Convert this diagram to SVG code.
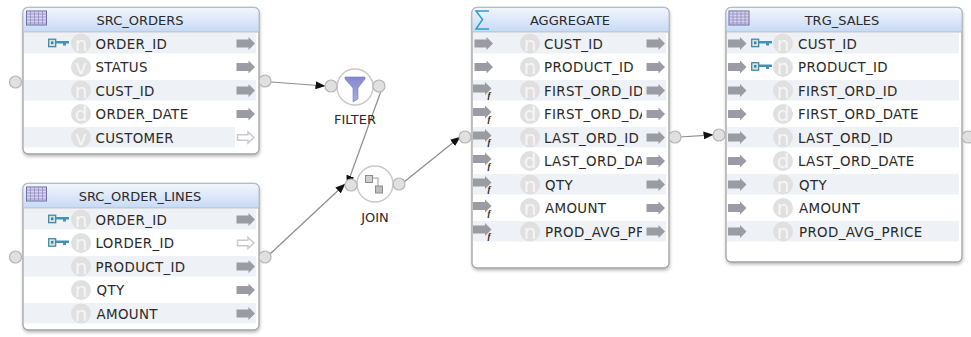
<svg xmlns="http://www.w3.org/2000/svg" width="971" height="337" viewBox="0 0 971 337">
<style>
text{font-family:"DejaVu Sans","Liberation Sans",sans-serif;fill:#2a2a2a}
.r{font-size:13.4px;letter-spacing:0.35px}
.t{font-size:13px;text-anchor:middle}
.l{font-size:13px;text-anchor:middle}
.card{fill:#fff;stroke:#a2a2a2;stroke-width:1.3;filter:url(#sh)}
.band{fill:#eef1f5}
.port{fill:#e0e0e0;stroke:#b6b6b6;stroke-width:1.2}
.op{fill:#fff;stroke:#c8c8c8;stroke-width:1.4}
.dt{fill:#e0e0e0}
.dl{font-size:20px;fill:#f6f6f6;text-anchor:middle;transform:translateY(2px)}
.f{font-size:9px;font-style:italic;font-weight:bold;fill:#222;font-family:"Liberation Serif",serif}
.c{fill:none;stroke:#8c8c8c;stroke-width:1.2;marker-end:url(#ah)}
.head{stroke:#b5bdc9;stroke-width:1}
</style>
<defs>
<filter id="sh" x="-5%" y="-5%" width="110%" height="110%"><feDropShadow dx="0.5" dy="2" stdDeviation="1.5" flood-color="#000" flood-opacity="0.25"/></filter>
<linearGradient id="hg" x1="0" y1="0" x2="0" y2="1"><stop offset="0" stop-color="#f3f6fd"/><stop offset="1" stop-color="#c6daf5"/></linearGradient>
<linearGradient id="fg" x1="0" y1="0" x2="0" y2="1"><stop offset="0" stop-color="#8488cf"/><stop offset="1" stop-color="#a9addf"/></linearGradient>
<marker id="ah" viewBox="0 0 10 8" refX="9.5" refY="4" markerWidth="10" markerHeight="8" markerUnits="userSpaceOnUse" orient="auto"><path d="M0 0L10 4L0 8z" fill="#111"/></marker>
<symbol id="arr" width="19" height="14" viewBox="0 0 19 14" overflow="visible"><path d="M0 2.500H12V0L18.500 6.500L12 13V10.500H0z" fill="#9b9ba3"/></symbol>
<symbol id="hol" width="19" height="14" viewBox="0 0 19 14" overflow="visible"><path d="M1 3.700H11.500V1L17.500 6.500L11.500 12V9.300H1z" fill="#fff" stroke="#cacad0" stroke-width="1.500"/></symbol>
<symbol id="key" width="21" height="10" viewBox="0 0 21 10" overflow="visible"><rect x="0.700" y="0.700" width="7" height="7.500" fill="#cfe4ea" stroke="#3d8296" stroke-width="1.200"/><rect x="3" y="3" width="2.400" height="2.600" fill="#3d8296"/><path d="M8 2.500H21V5H18V7H15V5H8z" fill="#3f93b5"/></symbol>
<symbol id="tbl" width="21" height="15" viewBox="0 0 21 15" overflow="visible"><rect x="0.500" y="0.500" width="20" height="14" fill="#d9d6ec" stroke="#6c6ca8"/><path d="M0.500 3.500H20.500M0.500 6.500H20.500M0.500 9.500H20.500M0.500 12.500H20.500M4.500 0.500V14.500M8.500 0.500V14.500M12.500 0.500V14.500M16.500 0.500V14.500" stroke="#8f8cc0" stroke-width="0.800" fill="none"/></symbol>
<clipPath id="ac"><rect x="540" y="33" width="102" height="210"/></clipPath>
</defs>

<g id="connectors">
<path class="c" d="M271 82L325 86"/>
<path class="c" d="M381 91L347 185"/>
<path class="c" d="M270 254L345 184"/>
<path class="c" d="M404 182L460 137"/>
<path class="c" d="M680 137L713 134.800"/>
</g>

<g id="src_orders">
<rect class="card" x="23" y="7.500" width="236" height="146.500" rx="5"/>
<path class="head" fill="url(#hg)" d="M23 32V12.500a5 5 0 0 1 5-5H254a5 5 0 0 1 5 5V32z"/>
<use href="#tbl" x="26" y="10.500"/>
<text class="t" x="140" y="24.500">SRC_ORDERS</text>
<rect class="band" x="24" y="33" width="232" height="20.500"/>
<rect class="band" x="24" y="80" width="232" height="20.500"/>
<rect class="band" x="24" y="127" width="211" height="20.500"/>
<use href="#key" x="48" y="38.500"/>
<circle class="dt" cx="81" cy="43.500" r="10"/><text class="dl" x="81" y="48.500">n</text>
<circle class="dt" cx="81" cy="67" r="10"/><text class="dl" x="81" y="72">v</text>
<circle class="dt" cx="81" cy="90.500" r="10"/><text class="dl" x="81" y="95.500">n</text>
<circle class="dt" cx="81" cy="114" r="10"/><text class="dl" x="81" y="119">d</text>
<circle class="dt" cx="81" cy="137.500" r="10"/><text class="dl" x="81" y="142.500">v</text>
<text class="r" x="95.500" y="48.500">ORDER_ID</text>
<text class="r" x="95.500" y="72">STATUS</text>
<text class="r" x="95.500" y="95.500">CUST_ID</text>
<text class="r" x="95.500" y="119">ORDER_DATE</text>
<text class="r" x="95.500" y="142.500">CUSTOMER</text>
<use href="#arr" x="236.500" y="37"/><use href="#arr" x="236.500" y="60.500"/><use href="#arr" x="236.500" y="84"/><use href="#arr" x="236.500" y="107.500"/><use href="#hol" x="236.500" y="131"/>
<circle class="port" cx="15.500" cy="82" r="6"/><circle class="port" cx="265" cy="81" r="6"/>
</g>

<g id="src_order_lines">
<rect class="card" x="23" y="183.500" width="236" height="146.500" rx="5"/>
<path class="head" fill="url(#hg)" d="M23 208V188.500a5 5 0 0 1 5-5H254a5 5 0 0 1 5 5V208z"/>
<use href="#tbl" x="26" y="186.500"/>
<text class="t" x="140" y="200.500">SRC_ORDER_LINES</text>
<rect class="band" x="24" y="209" width="232" height="20.500"/>
<rect class="band" x="24" y="256" width="232" height="20.500"/>
<rect class="band" x="24" y="303" width="232" height="20.500"/>
<use href="#key" x="48" y="214.500"/><use href="#key" x="48" y="238"/>
<circle class="dt" cx="81" cy="219.500" r="10"/><text class="dl" x="81" y="224.500">n</text>
<circle class="dt" cx="81" cy="243" r="10"/><text class="dl" x="81" y="248">n</text>
<circle class="dt" cx="81" cy="266.500" r="10"/><text class="dl" x="81" y="271.500">n</text>
<circle class="dt" cx="81" cy="290" r="10"/><text class="dl" x="81" y="295">n</text>
<circle class="dt" cx="81" cy="313.500" r="10"/><text class="dl" x="81" y="318.500">n</text>
<text class="r" x="95.500" y="224.500">ORDER_ID</text>
<text class="r" x="95.500" y="248">LORDER_ID</text>
<text class="r" x="95.500" y="271.500">PRODUCT_ID</text>
<text class="r" x="96.500" y="295">QTY</text>
<text class="r" x="96.500" y="318.500">AMOUNT</text>
<use href="#arr" x="236.500" y="213"/><use href="#hol" x="236.500" y="236.500"/><use href="#arr" x="236.500" y="260"/><use href="#arr" x="236.500" y="283.500"/><use href="#arr" x="236.500" y="307"/>
<circle class="port" cx="15.500" cy="257" r="6"/><circle class="port" cx="265" cy="257" r="6"/>
</g>

<g id="filter">
<circle class="op" cx="355" cy="87" r="18"/>
<path d="M345 77H365V79L358 88V99L353 102V88L345 79z" fill="url(#fg)" stroke="#7478bd" stroke-width="0.600"/>
<circle class="port" cx="331" cy="86" r="6"/><circle class="port" cx="379" cy="86" r="6"/>
<text class="l" x="355" y="124">FILTER</text>
</g>

<g id="join">
<circle class="op" cx="375" cy="184" r="18"/>
<path d="M372 178H378V186" fill="none" stroke="#9a9a9a"/>
<rect x="365.500" y="175.500" width="7" height="7" fill="#cfcfcf" stroke="#8c8c8c"/>
<rect x="375.500" y="186" width="7" height="7" fill="#bdbdbd" stroke="#8c8c8c"/>
<circle class="port" cx="351" cy="185" r="6"/><circle class="port" cx="399" cy="184" r="6"/>
<text class="l" x="375" y="222">JOIN</text>
</g>

<g id="aggregate">
<rect class="card" x="472" y="7.500" width="197" height="260.500" rx="5"/>
<path class="head" fill="url(#hg)" d="M472 32V12.500a5 5 0 0 1 5-5H664a5 5 0 0 1 5 5V32z"/>
<path d="M489 11H476L482.500 19.500L476 29H489" fill="none" stroke="#2a9fd4" stroke-width="1.500"/>
<text class="t" x="570" y="24.500">AGGREGATE</text>
<rect class="band" x="473" y="33" width="193" height="20.500"/>
<rect class="band" x="473" y="80" width="193" height="20.500"/>
<rect class="band" x="473" y="127" width="193" height="20.500"/>
<rect class="band" x="473" y="174" width="193" height="20.500"/>
<rect class="band" x="473" y="221" width="193" height="20.500"/>
<circle class="dt" cx="530" cy="43.500" r="10"/><text class="dl" x="530" y="48.500">n</text>
<circle class="dt" cx="530" cy="67" r="10"/><text class="dl" x="530" y="72">n</text>
<circle class="dt" cx="530" cy="90.500" r="10"/><text class="dl" x="530" y="95.500">n</text>
<circle class="dt" cx="530" cy="114" r="10"/><text class="dl" x="530" y="119">d</text>
<circle class="dt" cx="530" cy="137.500" r="10"/><text class="dl" x="530" y="142.500">n</text>
<circle class="dt" cx="530" cy="161" r="10"/><text class="dl" x="530" y="166">d</text>
<circle class="dt" cx="530" cy="184.500" r="10"/><text class="dl" x="530" y="189.500">n</text>
<circle class="dt" cx="530" cy="208" r="10"/><text class="dl" x="530" y="213">n</text>
<circle class="dt" cx="530" cy="231.500" r="10"/><text class="dl" x="530" y="236.500">n</text>
<g clip-path="url(#ac)">
<text class="r" x="544" y="48.500">CUST_ID</text>
<text class="r" x="544" y="72">PRODUCT_ID</text>
<text class="r" x="544" y="95.500">FIRST_ORD_ID</text>
<text class="r" x="544" y="119">FIRST_ORD_DA</text>
<text class="r" x="544" y="142.500">LAST_ORD_ID</text>
<text class="r" x="544" y="166">LAST_ORD_DA</text>
<text class="r" x="545" y="189.500">QTY</text>
<text class="r" x="545" y="213">AMOUNT</text>
<text class="r" x="545" y="236.500">PROD_AVG_PF</text>
</g>
<use href="#arr" x="474.500" y="37"/><use href="#arr" x="474.500" y="60.500"/>
<use href="#arr" x="473" y="82"/><text class="f" x="487.500" y="98">f</text>
<use href="#arr" x="473" y="105.500"/><text class="f" x="487.500" y="121.500">f</text>
<use href="#arr" x="473" y="129"/><text class="f" x="487.500" y="145">f</text>
<use href="#arr" x="473" y="152.500"/><text class="f" x="487.500" y="168.500">f</text>
<use href="#arr" x="473" y="176"/><text class="f" x="487.500" y="192">f</text>
<use href="#arr" x="473" y="199.500"/><text class="f" x="487.500" y="215.500">f</text>
<use href="#arr" x="473" y="223"/><text class="f" x="487.500" y="239">f</text>
<use href="#arr" x="646.500" y="37"/><use href="#arr" x="646.500" y="60.500"/><use href="#arr" x="646.500" y="84"/><use href="#arr" x="646.500" y="107.500"/><use href="#arr" x="646.500" y="131"/><use href="#arr" x="646.500" y="154.500"/><use href="#arr" x="646.500" y="178"/><use href="#arr" x="646.500" y="201.500"/><use href="#arr" x="646.500" y="225"/>
<circle class="port" cx="465" cy="137" r="6"/><circle class="port" cx="675" cy="137" r="6"/>
</g>

<g id="trg_sales">
<rect class="card" x="726" y="7.500" width="236" height="254.500" rx="5"/>
<path class="head" fill="url(#hg)" d="M726 32V12.500a5 5 0 0 1 5-5H957a5 5 0 0 1 5 5V32z"/>
<use href="#tbl" x="728.500" y="10.500"/>
<text class="t" x="842" y="24.500">TRG_SALES</text>
<rect class="band" x="727" y="33" width="232" height="20.500"/>
<rect class="band" x="727" y="80" width="232" height="20.500"/>
<rect class="band" x="727" y="127" width="232" height="20.500"/>
<rect class="band" x="727" y="174" width="232" height="20.500"/>
<rect class="band" x="727" y="221" width="232" height="20.500"/>
<use href="#key" x="751" y="38.500"/><use href="#key" x="751" y="62"/>
<circle class="dt" cx="783" cy="43.500" r="10"/><text class="dl" x="783" y="48.500">n</text>
<circle class="dt" cx="783" cy="67" r="10"/><text class="dl" x="783" y="72">n</text>
<circle class="dt" cx="783" cy="90.500" r="10"/><text class="dl" x="783" y="95.500">n</text>
<circle class="dt" cx="783" cy="114" r="10"/><text class="dl" x="783" y="119">d</text>
<circle class="dt" cx="783" cy="137.500" r="10"/><text class="dl" x="783" y="142.500">n</text>
<circle class="dt" cx="783" cy="161" r="10"/><text class="dl" x="783" y="166">d</text>
<circle class="dt" cx="783" cy="184.500" r="10"/><text class="dl" x="783" y="189.500">n</text>
<circle class="dt" cx="783" cy="208" r="10"/><text class="dl" x="783" y="213">n</text>
<circle class="dt" cx="783" cy="231.500" r="10"/><text class="dl" x="783" y="236.500">n</text>
<text class="r" x="798" y="48.500">CUST_ID</text>
<text class="r" x="798" y="72">PRODUCT_ID</text>
<text class="r" x="798" y="95.500">FIRST_ORD_ID</text>
<text class="r" x="798" y="119">FIRST_ORD_DATE</text>
<text class="r" x="798" y="142.500">LAST_ORD_ID</text>
<text class="r" x="798" y="166">LAST_ORD_DATE</text>
<text class="r" x="799" y="189.500">QTY</text>
<text class="r" x="799" y="213">AMOUNT</text>
<text class="r" x="799" y="236.500">PROD_AVG_PRICE</text>
<use href="#arr" x="728" y="37"/><use href="#arr" x="728" y="60.500"/><use href="#arr" x="728" y="84"/><use href="#arr" x="728" y="107.500"/><use href="#arr" x="728" y="131"/><use href="#arr" x="728" y="154.500"/><use href="#arr" x="728" y="178"/><use href="#arr" x="728" y="201.500"/><use href="#arr" x="728" y="225"/>
<circle class="port" cx="719" cy="135" r="6"/><circle class="port" cx="968" cy="137" r="6"/>
</g>
</svg>
